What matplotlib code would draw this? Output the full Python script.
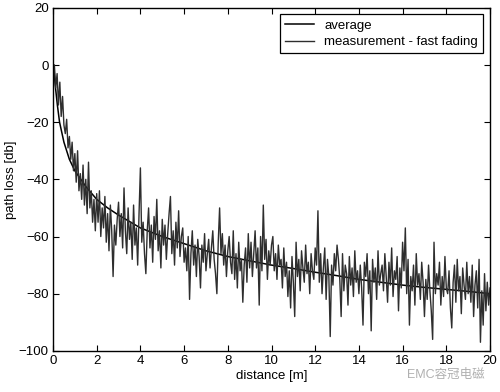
import numpy as np
import matplotlib.pyplot as plt

plt.rcParams['font.family'] = ['Liberation Sans', 'Noto Sans CJK SC', 'DejaVu Sans']

# average path loss curve
avg_dist = [0.05, 0.1, 0.2, 0.3, 0.5, 0.75, 1.0, 1.5, 2.0, 2.5, 3.0, 4.0, 5.0, 6.0,
            7.0, 8.0, 9.0, 10.0, 11.0, 12.0, 13.0, 14.0, 15.0, 16.0, 17.0, 18.0, 19.0, 20.0]
avg_loss = [-2, -7, -14, -20, -27, -33, -37, -42.5, -47, -50, -52.5, -57, -60, -62.5,
            -65, -67, -68.5, -70, -71.2, -72.5, -73.7, -75, -76, -77, -77.8, -78.5, -79.2, -80]

# measured path loss (fast fading), 16 samples per metre
meas_loss = [
    0, -8, -3, -14, -6, -18, -11, -21, -24, -19, -29, -25, -33, -27, -37, -31,
    -41, -30, -44, -38, -47, -35, -49, -40, -52, -34, -50, -44, -55, -47, -58, -45,
    -55, -44, -60, -50, -57, -46, -62, -52, -65, -49, -58, -74, -56, -63, -54, -48,
    -60, -52, -64, -43, -58, -66, -50, -61, -55, -68, -49, -63, -57, -70, -52, -36,
    -62, -55, -66, -73, -58, -50, -64, -56, -69, -53, -61, -47, -65, -58, -71, -54,
    -63, -56, -68, -59, -52, -46, -66, -58, -70, -55, -64, -51, -67, -60, -57, -69,
    -64, -72, -60, -82, -66, -58, -70, -63, -74, -61, -67, -78, -63, -69, -59, -72,
    -66, -61, -71, -64, -58, -68, -73, -80, -62, -50, -66, -59, -70, -63, -74, -65,
    -60, -69, -73, -58, -75, -66, -78, -62, -72, -68, -83, -70, -64, -76, -59, -71,
    -62, -74, -66, -58, -71, -64, -84, -60, -72, -49, -68, -61, -75, -65, -70, -63,
    -60, -72, -66, -75, -63, -70, -68, -78, -64, -74, -69, -81, -72, -85, -67, -76,
    -88, -62, -74, -68, -79, -65, -71, -76, -63, -73, -69, -80, -66, -72, -75, -64,
    -70, -51, -76, -66, -80, -71, -64, -82, -68, -74, -95, -70, -77, -66, -72, -63,
    -68, -75, -88, -66, -79, -70, -73, -84, -67, -77, -71, -81, -65, -76, -72, -80,
    -70, -78, -91, -69, -74, -66, -80, -72, -93, -68, -76, -71, -82, -65, -77, -73,
    -70, -79, -66, -74, -83, -69, -77, -64, -81, -72, -75, -67, -86, -71, -78, -62,
    -72, -57, -80, -68, -91, -74, -79, -70, -84, -66, -77, -73, -82, -69, -76, -88,
    -75, -82, -70, -79, -86, -96, -62, -80, -73, -77, -69, -84, -74, -81, -67, -78,
    -80, -72, -85, -92, -76, -70, -83, -68, -79, -74, -87, -71, -77, -82, -69, -80,
    -74, -83, -70, -88, -77, -72, -85, -68, -97, -79, -91, -73, -86, -76, -84, -78,
]
meas_dist = np.arange(1, len(meas_loss) + 1) / 16.0

fig = plt.figure(figsize=(5.0, 3.92), dpi=100)
ax = fig.add_axes([0.106, 0.105, 0.874, 0.875])

ax.plot(avg_dist, avg_loss, color='black', lw=1.1, label='average')
ax.plot(meas_dist, meas_loss, color='#2e2e2e', lw=1.0, label='measurement - fast fading')

ax.set_xlim(0, 20)
ax.set_ylim(-100, 20)
ax.set_xticks(range(0, 21, 2))
ax.set_yticks(range(-100, 21, 20))
ax.tick_params(direction='in', top=True, right=True, length=4, width=0.8,
               labelsize=9.5, pad=3)
for s in ax.spines.values():
    s.set_linewidth(1.0)

ax.set_xlabel('distance [m]', fontsize=9.5, labelpad=2)
ax.set_ylabel('path loss [db]', fontsize=9.5, labelpad=1)

leg = ax.legend(loc='upper right', fontsize=9.5, fancybox=False, framealpha=1,
                edgecolor='black', handlelength=2.2, borderaxespad=0.5,
                borderpad=0.4, labelspacing=0.3)
leg.get_frame().set_linewidth(0.9)

# watermark
fig.text(0.97, 0.045, 'EMC容冠电磁', color='#b0b0b0', fontsize=9,
         ha='right', va='center')

fig.savefig('out.png', dpi=100)
